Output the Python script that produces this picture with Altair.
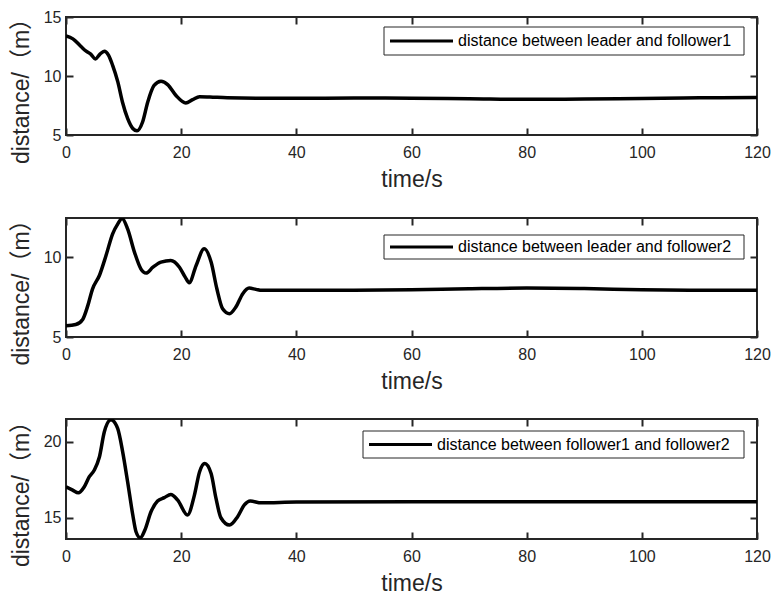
import altair as alt
import pandas as pd

# Distance histories (time in s, distance in m)
t_lf1 = [0, 1.2, 2.6, 3.5, 4.3, 5.1, 5.9, 6.65, 7.4, 8.1, 9.0, 9.8, 10.7, 11.6, 12.33,
         13.3, 14.2, 15.3, 16.5, 17.7, 19.1, 20.8, 22.0, 23.2, 25, 28, 34, 40, 50,
         60, 70, 80, 90, 100, 110, 120]
d_lf1 = [13.4, 13.15, 12.5, 12.1, 11.85, 11.45, 11.85, 12.1, 11.75, 10.9, 9.5, 7.8, 6.4,
         5.55, 5.35, 6.1, 7.8, 9.2, 9.55, 9.25, 8.35, 7.72, 8.0, 8.25, 8.22, 8.15, 8.12,
         8.12, 8.13, 8.12, 8.08, 8.03, 8.05, 8.1, 8.15, 8.18]

t_lf2 = [0, 1.7, 2.9, 3.8, 4.6, 5.8, 6.95, 8.1, 9.0, 9.73, 10.7, 11.9, 13.0, 13.9, 15.1,
         16.5, 18.2, 19.7, 20.7, 21.4, 22.6, 24.0, 25.2, 26.2, 27.2, 28.4, 29.5, 30.7,
         31.8, 33.0, 34, 40, 50, 60, 70, 80, 90, 100, 110, 120]
d_lf2 = [5.7, 5.78, 6.1, 6.98, 8.0, 8.85, 10.1, 11.46, 12.08, 12.42, 11.77, 10.3, 9.27,
         9.0, 9.37, 9.69, 9.79, 9.37, 8.75, 8.4, 9.48, 10.52, 9.69, 8.02, 6.77, 6.46,
         6.88, 7.71, 8.06, 7.98, 7.92, 7.92, 7.93, 7.96, 8.02, 8.06, 8.03, 7.96, 7.93, 7.93]

t_ff = [0, 1.16, 2.14, 3.18, 4.05, 4.92, 5.8, 6.66, 7.8, 8.97, 9.84, 10.7, 11.6, 12.16,
        12.9, 13.7, 14.76, 15.9, 17.07, 18.2, 19.4, 21.1, 22.3, 23.2, 24.1, 25.2, 26.05,
        26.9, 28.4, 29.8, 30.97, 32.0, 33.9, 40, 60, 80, 100, 120]
d_ff = [17.04, 16.82, 16.64, 17.04, 17.7, 18.14, 19.0, 20.66, 21.45, 20.88, 19.34, 17.37,
        15.18, 14.08, 13.68, 14.19, 15.39, 16.1, 16.32, 16.53, 16.16, 15.18, 16.49, 18.03,
        18.57, 17.91, 16.27, 15.0, 14.52, 15.07, 15.84, 16.1, 15.98, 16.03, 16.05, 16.05,
        16.05, 16.05]

names = ["distance between leader and follower1",
         "distance between leader and follower2",
         "distance between follower1 and follower2"]
y_domains = [[5, 15], [5, 12.45], [13.6, 21.5]]
y_ticks = [[5, 10, 15], [5, 10], [15, 20]]
x_ticks = [0, 20, 40, 60, 80, 100, 120]

FONT = "Liberation Sans, Arial, Noto Sans CJK SC"
INK = "#262626"
TICK = 7
PLOT_W = 691
heights = [118, 119, 120]
# legend frame inside each panel: left, right, top, bottom (px from plot origin)
boxes = [(318, 678, 10, 38), (318, 678, 17, 41), (297, 678, 12, 39)]


def panel(t, d, name, ydom, yticks, h, box):
    df = pd.DataFrame({"t": t, "d": d, "series": name})
    xs = alt.Scale(domain=[0, 120], nice=False, zero=False)
    ys = alt.Scale(domain=ydom, nice=False, zero=False)
    base = alt.Chart(df)
    curve = base.mark_line(color="black", strokeWidth=3.5, interpolate="monotone",
                           clip=True).encode(
        x=alt.X("t:Q", scale=xs,
                axis=alt.Axis(values=x_ticks, title="time/s", orient="bottom",
                              offset=-TICK, tickSize=TICK, labelPadding=9,
                              labelFlush=False, titlePadding=8, domain=False,
                              grid=False, format="d")),
        y=alt.Y("d:Q", scale=ys,
                axis=alt.Axis(values=yticks, title="distance/（m）", orient="left",
                              offset=-TICK, tickSize=TICK, labelPadding=5,
                              labelFlush=False, titlePadding=10, titleY=h / 2 + 9,
                              domain=False, grid=False, format="d")),
    )
    mirror = base.mark_line(strokeOpacity=0).encode(
        x=alt.X("t:Q", scale=xs,
                axis=alt.Axis(values=x_ticks, orient="top", labels=False, title=None,
                              offset=-TICK, tickSize=TICK, domain=False, grid=False)),
        y=alt.Y("d:Q", scale=ys,
                axis=alt.Axis(values=yticks, orient="right", labels=False, title=None,
                              offset=-TICK, tickSize=TICK, domain=False, grid=False)),
    )
    key = pd.DataFrame({"series": [name]})
    x0, x1, y0, y1 = box
    ym = (y0 + y1) / 2
    frame = alt.Chart(key).mark_rect(fill="white", stroke=INK, strokeWidth=1).encode(
        x=alt.value(x0), x2=alt.value(x1), y=alt.value(y0), y2=alt.value(y1))
    sample = alt.Chart(key).mark_rule(color="black", strokeWidth=3).encode(
        x=alt.value(x0 + 6), x2=alt.value(x0 + 69), y=alt.value(ym))
    label = alt.Chart(key).mark_text(align="left", baseline="middle", fontSize=16,
                                     font=FONT, color="black").encode(
        x=alt.value(x0 + 74), y=alt.value(ym), text="series:N")
    return (alt.layer(curve, mirror, frame, sample, label)
            .resolve_axis(x="independent", y="independent")
            .properties(width=PLOT_W, height=h))


panels = [
    panel(t_lf1, d_lf1, names[0], y_domains[0], y_ticks[0], heights[0], boxes[0]),
    panel(t_lf2, d_lf2, names[1], y_domains[1], y_ticks[1], heights[1], boxes[1]),
    panel(t_ff, d_ff, names[2], y_domains[2], y_ticks[2], heights[2], boxes[2]),
]

chart = (
    alt.vconcat(*panels, spacing=14)
    .properties(padding={"left": 9, "top": 5, "right": 5, "bottom": 5},
                background="white")
    .configure_view(stroke=INK, strokeWidth=2)
    .configure_axis(labelFont=FONT, labelFontSize=16, labelColor=INK,
                    titleFont=FONT, titleFontSize=23, titleColor=INK,
                    titleFontWeight="normal", tickColor=INK, tickWidth=2)
)

chart.save("out.html", embed_options={"renderer": "svg", "actions": False})
